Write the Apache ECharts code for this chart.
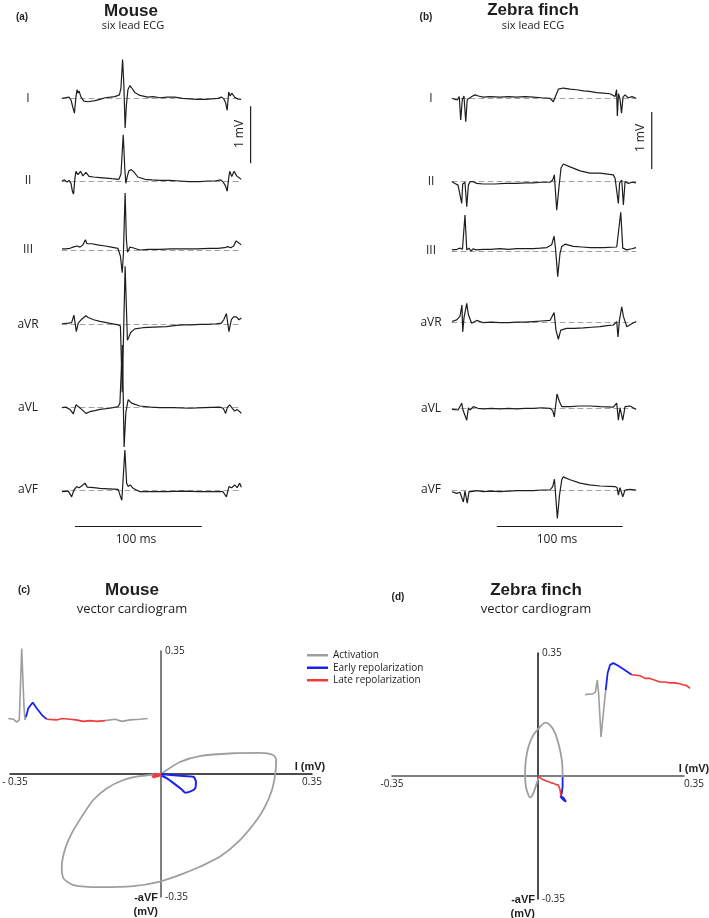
<!DOCTYPE html>
<html>
<head>
<meta charset="utf-8">
<style>
  html, body { margin: 0; background: #fff; }
  #box { width: 709px; height: 918px; }
</style>
<script src="https://cdn.jsdelivr.net/npm/echarts@6/dist/echarts.min.js"></script>
</head>
<body>
<div id="box"></div>
<script>
var leadNames = ['I', 'II', 'III', 'aVR', 'aVL', 'aVF'];
var phaseNames = ['Activation', 'Early repolarization', 'Late repolarization'];

// mouse six lead ECG, points are [ms, mV]
var mouseI = [[0,0],[2.4,0.01],[3.9,-0.01],[5.5,0.02],[7.1,-0.03],[8.7,-0.17],[9.8,-0.26],[11,0.02],[11.8,0.15],[12.6,0.09],[13.4,0.13],[15,0.02],[17.3,-0.05],[20.5,-0.06],[26,-0.04],[30,-0.02],[33.9,0.01],[38,0.02],[41.7,0.03],[45.3,0.06],[46.5,0.18],[47.8,0.68],[48.8,0.23],[49.8,-0.52],[50.8,-0.12],[52,0.15],[53.5,0.22],[55.1,0.18],[57.5,0.1],[61.4,0.05],[67.7,0.02],[72,0.03],[77.2,0.01],[83,0.02],[89,0.02],[95,0],[100.8,-0.01],[106,-0.02],[112.6,-0.02],[118,-0.01],[122.8,0],[126,0.02],[127.6,-0.01],[129.1,-0.08],[130.3,-0.21],[131.5,0.11],[132.7,0.04],[133.9,0.09],[136.2,0.02],[138.6,-0.01],[141.3,-0.02]];
var mouseII = [[0,0],[2,0.02],[3.9,-0.02],[5.5,0.01],[7.1,-0.04],[8.3,-0.19],[9.1,-0.23],[10.2,0.05],[11,0.17],[12.6,0.11],[14.6,0.17],[16.5,0.09],[18.9,0.15],[21.3,0.08],[25,0.07],[29.9,0.06],[35,0.05],[39.4,0.04],[44.9,0.03],[46.5,0.12],[48.3,0.81],[49.6,0.19],[50.4,-0.04],[51.6,0.09],[52.8,0.18],[54.7,0.2],[56.7,0.16],[59.8,0.07],[65.4,0.03],[71,0.02],[77.2,0.01],[85,0.01],[92.9,0],[100,-0.01],[108.7,-0.01],[115,0],[120.5,0],[125.2,0.02],[127.2,-0.02],[129.1,-0.09],[130.3,-0.18],[131.5,0.05],[132.3,0.17],[133.9,0.08],[135.8,0.17],[137.8,0.09],[141.3,0.03]];
var mouseIII = [[0,0.02],[3,0.02],[6.3,0.03],[8.7,0.05],[10.2,0.02],[11.8,0.07],[14.2,0.05],[16.5,0.09],[18.5,0.18],[19.7,0.11],[23.6,0.11],[28,0.09],[33.9,0.07],[39,0.05],[44.1,0.03],[46.1,-0.11],[47.5,-0.4],[48.4,-0.09],[49.8,1.0],[50.8,0.18],[51.7,-0.04],[53.5,0.05],[55.9,0.04],[61.4,0],[68,0.01],[77.2,0.01],[86,0.02],[96.9,0.02],[106,0.02],[116.5,0.03],[123,0.03],[128.3,0.04],[130.7,0.06],[133.1,0.04],[135.4,0.07],[137.4,0.16],[138.3,0.19],[139.8,0.12],[141.3,0.09]];
var mouseAVR = [[0,0.01],[5,0.02],[7.6,0.03],[9.4,0.16],[11.3,-0.13],[12.8,0.02],[15.5,0.09],[18.9,0.15],[20.7,0.12],[25,0.08],[29.9,0.05],[37,0.02],[44.3,-0.01],[46.1,-0.03],[47.5,-1.19],[49.8,1.02],[51.6,-0.28],[52.8,-0.22],[54.3,-0.14],[57.5,-0.08],[63.8,-0.06],[72,-0.05],[82.4,-0.04],[90,-0.02],[95.3,-0.01],[102,-0.01],[108.7,0],[115,0],[121.8,0.01],[125.7,0.02],[127.6,0.08],[129.7,0.19],[131.7,-0.13],[133.6,0.08],[135.4,0.13],[137.6,0.13],[139.6,0.08],[141.5,0.11]];
var mouseAVL = [[0,0],[3.1,0.01],[6.3,-0.03],[8.9,-0.11],[11,0.05],[12.8,0.02],[15.5,-0.03],[18.9,-0.1],[22,-0.07],[26,-0.05],[29.9,-0.03],[37.8,-0.01],[44.3,0.02],[45.7,0.08],[47.6,1.1],[49,-0.69],[50.4,-0.08],[52.2,0.14],[54.9,0.08],[61.4,0.03],[70,0.01],[77.2,0],[88,0],[100.8,-0.01],[112,0],[124.4,0.01],[127.2,-0.01],[129.1,-0.1],[130.5,0.01],[132.3,0.05],[134.4,-0.01],[136.2,-0.06],[138,-0.03],[140.2,-0.07],[141.5,-0.1]];
var mouseAVF = [[0,-0.03],[5,-0.02],[7.6,-0.12],[9.4,0],[11.6,0.06],[13.4,0.04],[15.5,0.07],[18.1,0.12],[19.9,0.05],[25,0.04],[29.9,0.03],[37,0.02],[44.3,0.01],[46.2,-0.12],[47.2,-0.18],[49.6,0.7],[51,0.12],[52.2,0.06],[53.9,0.09],[56.1,0.03],[61.4,-0.03],[70,-0.03],[82.4,-0.03],[95,-0.02],[108.7,-0.03],[118,-0.03],[127,-0.03],[129.7,-0.12],[131.7,0.06],[133.9,0.04],[136.2,0.09],[138.2,0.04],[140.2,0.12],[141.5,0.05]];

// zebra finch six lead ECG, points are [ms, mV]
var zebraI = [[0,0],[2.4,-0.02],[4.2,-0.03],[5.8,0.03],[6.9,-0.38],[8.2,-0.02],[9.5,0.04],[10.9,-0.41],[12.1,-0.02],[14.3,0.01],[16.4,0.04],[18.3,0.06],[20.9,0.04],[24.9,0.02],[30.2,0.03],[38.1,0.02],[45,0.03],[51.3,0.02],[58,0.03],[64.5,0.02],[71,0.01],[77.8,0],[80.4,-0.06],[81.5,-0.09],[83.1,0.09],[84.4,0.16],[88.3,0.18],[93.7,0.16],[99,0.15],[104.2,0.13],[109,0.12],[114.8,0.1],[120,0.09],[125.4,0.08],[129.4,0.03],[130.6,0.15],[131.2,-0.31],[132.1,0.08],[133.3,-0.01],[134.5,-0.26],[135.7,0.02],[137.3,0.06],[139.7,0.01],[142.9,0.03],[146,0]];
var zebraII = [[0,0],[2.4,-0.03],[4.8,-0.06],[6.3,-0.04],[7.7,-0.38],[8.5,-0.04],[10.3,-0.01],[11.7,-0.44],[13,-0.06],[14.3,0],[16.9,0],[19.6,-0.03],[24.9,-0.04],[34.1,-0.04],[42,-0.03],[51.3,-0.03],[58,-0.02],[64.5,-0.02],[71,-0.01],[77.8,-0.01],[79.9,0.03],[81.2,0.12],[83.1,-0.5],[84.9,-0.09],[86.5,0.24],[88.3,0.31],[93.7,0.26],[101.6,0.19],[109.5,0.15],[117.5,0.15],[128,0.12],[129.4,0.06],[130.7,0.03],[132,-0.38],[133,-0.02],[134.7,0.03],[136,-0.41],[137.3,0],[140,-0.03],[142.9,-0.01],[146,-0.02]];
var zebraIII = [[0,0.02],[4,0.03],[6.3,0.05],[8.3,0.03],[10.3,0.63],[11.7,0.02],[13.5,0.05],[15.1,0],[16.9,0.04],[19,0.02],[24.9,0.03],[31,0.03],[38.1,0.04],[45,0.03],[51.3,0.04],[58,0.04],[64.5,0.04],[70,0.05],[75.2,0.06],[79.1,0.11],[81,0.26],[82.1,0.05],[83.9,-0.45],[85.7,-0.04],[87.1,0.08],[89.7,0.12],[96.3,0.08],[103,0.07],[109.5,0.06],[120,0.06],[130.7,0.07],[132.1,0.05],[133.9,0.68],[135.5,0.05],[138.7,0.02],[142.6,0.04],[146,0.06]];
var zebraAVR = [[0,0.02],[3.7,0.05],[6.3,0.11],[7.9,0.31],[8.5,-0.16],[9.5,0.08],[11.7,0.34],[13,0.14],[15.6,-0.01],[19.6,0.04],[24.9,0],[31,0.01],[38.1,0],[45,0],[51.3,0.01],[58,0.01],[64.5,0.02],[71,0.03],[77.8,0.04],[81,0.18],[82.5,-0.13],[84.4,-0.29],[86.3,-0.13],[91,-0.1],[97,-0.1],[104.2,-0.09],[111,-0.08],[117.5,-0.07],[123,-0.05],[128,-0.04],[130.7,0.02],[131.7,-0.25],[132.9,0.05],[134.7,0.28],[136,0.11],[138.7,-0.07],[142.6,-0.02],[146,0.02]];
var zebraAVL = [[0,-0.02],[4.8,-0.03],[7.7,0.09],[8.7,-0.03],[11.7,-0.21],[13,0.01],[14.3,-0.03],[16.9,0.03],[20.6,0],[24.9,-0.01],[31,0],[38.1,-0.01],[45,0],[51.3,-0.01],[58,0],[64.5,0],[71,0.01],[77.8,0],[79.9,-0.04],[81.2,-0.15],[83.3,0.25],[85.2,0.12],[87.1,0.03],[93.7,0.03],[101,0.04],[109.5,0.04],[118,0.03],[128,0.02],[130.7,0.09],[132,-0.21],[133.3,0.01],[135.5,-0.21],[137.3,0.03],[141.3,0.04],[146,-0.02]];
var zebraAVF = [[0,-0.03],[3.7,-0.06],[6.3,-0.04],[9,-0.21],[10.3,-0.02],[12.1,-0.23],[13.5,-0.03],[15.6,-0.03],[19.6,-0.01],[24.9,-0.03],[31,-0.02],[38.1,-0.03],[45,-0.02],[51.3,-0.01],[58,-0.01],[64.5,-0.01],[71,0],[77.8,0],[79.9,0.06],[81.3,0.19],[83.6,-0.5],[85.3,-0.09],[87.1,0.18],[88.3,0.23],[93.7,0.18],[101.6,0.12],[109,0.09],[117.5,0.07],[129.4,0.06],[131,0.04],[132,-0.09],[133.3,0.04],[135.5,-0.12],[137.3,0],[141.3,0.01],[146,0]];

// scale bars, [ms, mV]
var mouseMvBar = [[148.8, -0.14], [148.81, -1.14]];
var zebraMvBar = [[158.5, -0.24], [158.51, -1.24]];
var mouseMsBar = [[10.3, -0.64], [110.3, -0.64]];
var zebraMsBar = [[35.5, -0.64], [135.5, -0.64]];

// vector cardiogram, [lead I mV, -aVF mV]
var mouseVcgAct = [[0,0],[0.044,0.034],[0.09,0.051],[0.167,0.059],[0.229,0.06],[0.26,0.054],[0.267,0.04],[0.265,0.002],[0.257,-0.046],[0.241,-0.093],[0.222,-0.131],[0.183,-0.188],[0.137,-0.235],[0.09,-0.264],[0.044,-0.287],[-0.002,-0.306],[-0.064,-0.319],[-0.141,-0.322],[-0.203,-0.316],[-0.226,-0.297],[-0.23,-0.264],[-0.223,-0.216],[-0.207,-0.169],[-0.184,-0.122],[-0.157,-0.074],[-0.126,-0.041],[-0.087,-0.017],[-0.049,-0.006],[0,0]];
var mouseVcgEarly = [[0,0],[0.044,-0.005],[0.075,-0.008],[0.081,-0.022],[0.079,-0.041],[0.067,-0.05],[0.056,-0.053],[0.048,-0.044],[0.029,-0.026],[0.013,-0.012],[0.002,-0.005]];
var mouseVcgLate = [[0,-0.003],[-0.009,-0.006],[-0.019,-0.009],[-0.022,-0.004],[-0.014,0],[-0.005,-0.003],[0,-0.003]];
var zebraVcgAct = [[0.002,-0.002],[-0.003,-0.021],[-0.011,-0.049],[-0.018,-0.061],[-0.023,-0.054],[-0.029,-0.03],[-0.031,0.008],[-0.029,0.046],[-0.023,0.083],[-0.011,0.117],[0.005,0.14],[0.017,0.152],[0.029,0.145],[0.041,0.122],[0.051,0.083],[0.057,0.046],[0.059,0.008],[0.059,-0.003]];
var zebraVcgEarly = [[0.059,-0.003],[0.059,-0.03],[0.057,-0.049],[0.054,-0.059],[0.059,-0.066],[0.067,-0.073],[0.062,-0.063],[0.055,-0.057]];
var zebraVcgLate = [[0.055,-0.057],[0.053,-0.04],[0.051,-0.033],[0.049,-0.026],[0.043,-0.024],[0.037,-0.021],[0.031,-0.019],[0.025,-0.016],[0.02,-0.014],[0.017,-0.011],[0.012,-0.01],[0.009,-0.009],[0.003,-0.004],[0,0]];

// inset beats shown next to the loops, [ms, mV]
var mouseInsetAct1 = [[0.15,-0.01],[2.65,-0.02],[4.35,-0.06],[5.65,-0.03],[6.85,0.95],[8,0.15],[8.5,-0.03],[9,0.01]];
var mouseInsetEarly = [[9,0.01],[10.15,0.13],[12.35,0.21],[14.35,0.13],[16.85,0.04],[19.35,-0.02]];
var mouseInsetLate = [[19.35,-0.02],[24.35,-0.03],[27,-0.01],[31,-0.02],[34,-0.03],[37.65,-0.05],[41,-0.04],[44.35,-0.05],[48.5,-0.04]];
var mouseInsetAct2 = [[48.5,-0.04],[53.5,-0.02],[57,-0.05],[61,-0.03],[66,-0.02],[69.85,-0.01]];
var zebraInsetAct = [[0,0.06],[5.5,0.07],[7,0.09],[8.2,0.22],[9.1,0.07],[10.7,-0.41],[12.2,-0.15],[13.8,0.11]];
var zebraInsetEarly = [[13.8,0.11],[15.1,0.3],[16.7,0.39],[18.9,0.41],[22.2,0.38],[26.7,0.33],[31.1,0.28]];
var zebraInsetLate = [[31.1,0.28],[36.7,0.27],[40,0.24],[43.3,0.24],[46.7,0.22],[50,0.2],[53.3,0.2],[56.7,0.19],[60,0.19],[63.3,0.18],[65.3,0.17],[67.8,0.16],[70,0.13]];

var mouseLeads = [mouseI, mouseII, mouseIII, mouseAVR, mouseAVL, mouseAVF];
var zebraLeads = [zebraI, zebraII, zebraIII, zebraAVR, zebraAVL, zebraAVF];

var ink = '#1e1e1e';
var phaseColors = ['#9e9e9e', '#1a22f0', '#f23a3a'];
var pxPerMv = 57;
var mouseBase = [98.3, 181, 250, 324.3, 407.7, 490];
var zebraBase = [98.3, 181.7, 251, 322.7, 408.3, 490];

var myChart = echarts.init(document.getElementById('box'), null, { renderer: 'canvas' });

var grids = [], xAxes = [], yAxes = [], series = [];

function hiddenGrid(left, width, top, height, xMax, yMin, yMax) {
    var idx = grids.length;
    grids.push({ left: left, width: width, top: top, height: height, containLabel: false, outerBoundsMode: 'none' });
    xAxes.push({ gridIndex: idx, type: 'value', min: 0, max: xMax, show: false });
    yAxes.push({ gridIndex: idx, type: 'value', min: yMin, max: yMax, show: false });
    return idx;
}

function addLeadPanel(leads, bases, left, width, tMax, labelGap) {
    for (var k = 0; k < leads.length; k++) {
        var idx = grids.length;
        grids.push({
            left: left, width: width, top: bases[k] - pxPerMv, height: 2 * pxPerMv,
            containLabel: false, outerBoundsMode: 'none'
        });
        xAxes.push({
            gridIndex: idx, type: 'value', min: 0, max: tMax,
            axisLine: { onZero: true, lineStyle: { color: '#a3a3a3', width: 1, type: [5, 4] } },
            axisTick: { show: false }, axisLabel: { show: false }, splitLine: { show: false }
        });
        yAxes.push({
            gridIndex: idx, type: 'value', min: -1, max: 1,
            name: leadNames[k], nameLocation: 'middle', nameRotate: 0, nameGap: labelGap,
            nameTextStyle: { align: 'center', verticalAlign: 'middle', fontSize: 12, fontFamily: 'Open Sans', color: ink },
            axisLine: { show: false }, axisTick: { show: false }, axisLabel: { show: false }, splitLine: { show: false }
        });
        series.push(traceSeries(leads[k], idx));
    }
}

function traceSeries(data, idx) {
    return {
        type: 'line', data: data, xAxisIndex: idx, yAxisIndex: idx,
        symbol: 'none', showSymbol: false, clip: false, silent: true,
        lineStyle: { color: ink, width: 1.2 }
    };
}

function phaseSeries(data, idx, phase, width, smooth) {
    return {
        type: 'line', name: phaseNames[phase], data: data, xAxisIndex: idx, yAxisIndex: idx,
        symbol: 'none', showSymbol: false, clip: false, silent: true, smooth: smooth || false,
        color: phaseColors[phase],
        lineStyle: { color: phaseColors[phase], width: width }
    };
}

var tickRich = {
    lo: { fontSize: 10, fontFamily: 'Open Sans', color: ink, padding: [0, 0, 0, 10] },
    hi: { fontSize: 10, fontFamily: 'Open Sans', color: ink, padding: [0, 0, 0, 20] },
    n: { fontSize: 10, fontFamily: 'Open Sans', color: ink }
};

// crossing axes: the grid is centred on the origin and both axes are pulled in to it
function addVcg(left, width, top, height, xColor, yColor, minText, maxText, nameGapX) {
    var idx = grids.length;
    grids.push({ left: left, width: width, top: top, height: height, containLabel: false, outerBoundsMode: 'none' });
    xAxes.push({
        gridIndex: idx, type: 'value', min: -0.35, max: 0.35, interval: 0.35,
        position: 'bottom', offset: -height / 2,
        axisLine: { onZero: false, lineStyle: { color: xColor, width: 1.5 } },
        axisTick: { show: false }, splitLine: { show: false },
        axisLabel: {
            margin: 3, fontSize: 10, fontFamily: 'Open Sans', color: ink, showMinLabel: true, showMaxLabel: true,
            rich: tickRich,
            formatter: function (v) { return Math.abs(v) < 1e-6 ? '' : (v < 0 ? minText : maxText); }
        },
        name: 'I (mV)', nameLocation: 'end', nameGap: nameGapX,
        nameTextStyle: { fontWeight: 'bold', fontSize: 11, fontFamily: 'Liberation Sans', color: ink, align: 'center', verticalAlign: 'bottom', padding: [0, 0, 2, 0] }
    });
    yAxes.push({
        gridIndex: idx, type: 'value', min: -0.35, max: 0.35, interval: 0.35,
        position: 'left', offset: -width / 2,
        axisLine: { onZero: false, lineStyle: { color: yColor, width: 1.5 } },
        axisTick: { show: false }, splitLine: { show: false },
        axisLabel: {
            inside: true, margin: 4, fontSize: 10, fontFamily: 'Open Sans', color: ink, showMinLabel: true, showMaxLabel: true,
            formatter: function (v) { return Math.abs(v) < 1e-6 ? '' : (v < 0 ? '-0.35' : '0.35'); }
        },
        name: '-aVF\n(mV)', nameLocation: 'start', nameGap: -6,
        nameTextStyle: { fontWeight: 'bold', fontSize: 11, fontFamily: 'Liberation Sans', color: ink, align: 'right', verticalAlign: 'top', lineHeight: 14, padding: [0, 3, 0, 0] }
    });
    return idx;
}

// (a) and (b) six lead ECGs
addLeadPanel(mouseLeads, mouseBase, 62, 180, 142, 34);
addLeadPanel(zebraLeads, zebraBase, 452, 184, 146, 21);

// scale bars on the same ms / mV scales, in wider grids so nothing is cut
var mb = hiddenGrid(62, 160 * 180 / 142, mouseBase[0] - pxPerMv, 2 * pxPerMv, 160, -1, 1);
series.push(traceSeries(mouseMvBar, mb), traceSeries(mouseMsBar, 5));
var zb = hiddenGrid(452, 165 * 184 / 146, zebraBase[0] - pxPerMv, 2 * pxPerMv, 165, -1, 1);
series.push(traceSeries(zebraMvBar, zb), traceSeries(zebraMsBar, 11));

// (c) and (d) vector cardiograms
var mv = addVcg(10, 302, 651, 246, '#111', '#555', '{lo|- 0.35}', '{n|0.35}', -2);
series.push(phaseSeries(mouseVcgAct, mv, 0, 1.8, 0.25));
series.push(phaseSeries(mouseVcgEarly, mv, 1, 2, 0.2));
series.push(phaseSeries(mouseVcgLate, mv, 2, 2.6, false));

var zv = addVcg(392, 292, 653, 246, '#555', '#111', '{n|-0.35}', '{hi|0.35}', 10);
series.push(phaseSeries(zebraVcgAct, zv, 0, 1.8, 0.25));
series.push(phaseSeries(zebraVcgEarly, zv, 1, 1.8, false));
series.push(phaseSeries(zebraVcgLate, zv, 2, 1.6, false));

var mi = hiddenGrid(8, 140, 645, 80, 70, -0.1, 1.0);
series.push(phaseSeries(mouseInsetAct1, mi, 0, 1.6));
series.push(phaseSeries(mouseInsetEarly, mi, 1, 1.8));
series.push(phaseSeries(mouseInsetLate, mi, 2, 1.6));
series.push(phaseSeries(mouseInsetAct2, mi, 0, 1.6));

var zi = hiddenGrid(585, 108, 655, 90, 72, -0.5, 0.5);
series.push(phaseSeries(zebraInsetAct, zi, 0, 1.6));
series.push(phaseSeries(zebraInsetEarly, zi, 1, 1.8));
series.push(phaseSeries(zebraInsetLate, zi, 2, 1.6));

function label(text, x, y, font, rotation) {
    return {
        type: 'text', x: x, y: y, rotation: rotation || 0, silent: true,
        style: { text: text, font: font, fill: ink, align: 'center', verticalAlign: 'middle', textAlign: 'center', textVerticalAlign: 'middle' }
    };
}

var titleFont = 'bold 17px "Liberation Sans"';
var subFont = '11px "Open Sans"';
var vcgSubFont = '13px "Open Sans"';
var letterFont = 'bold 10px "Liberation Sans"';
var barFont = '12px "Open Sans"';

option = {
    animation: false,
    grid: grids,
    xAxis: xAxes,
    yAxis: yAxes,
    series: series,
    legend: {
        data: phaseNames, orient: 'vertical', left: 307, top: 649,
        icon: 'rect', itemWidth: 21, itemHeight: 2.5, itemGap: 0, padding: 0, selectedMode: false,
        textStyle: { fontSize: 10, lineHeight: 12.5, fontFamily: 'Open Sans', color: ink }
    },
    graphic: [
        label('(a)', 22, 17, letterFont),
        label('Mouse', 131, 11, titleFont),
        label('six lead ECG', 133, 26, subFont),
        label('(b)', 426, 17, letterFont),
        label('Zebra finch', 533, 10, titleFont),
        label('six lead ECG', 533, 26, subFont),
        label('1 mV', 240, 134, barFont, Math.PI / 2),
        label('1 mV', 641, 138, barFont, Math.PI / 2),
        label('100 ms', 136, 540, barFont),
        label('100 ms', 557, 540, barFont),
        label('(c)', 24, 590, letterFont),
        label('Mouse', 132, 590, titleFont),
        label('vector cardiogram', 132, 609, vcgSubFont),
        label('(d)', 398, 597, letterFont),
        label('Zebra finch', 536, 590, titleFont),
        label('vector cardiogram', 536, 609, vcgSubFont)
    ]
};

myChart.setOption(option);
window.addEventListener('resize', function () {
    myChart.resize();
});
</script>
</body>
</html>
